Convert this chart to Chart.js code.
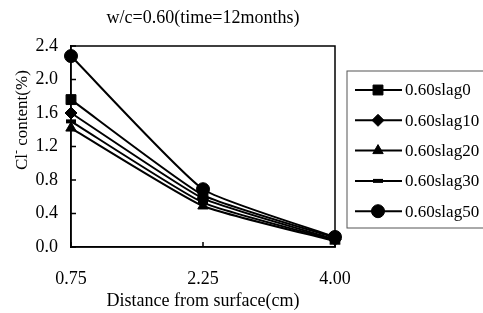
<!DOCTYPE html>
<html>
<head>
<meta charset="utf-8">
<script src="https://cdn.jsdelivr.net/npm/chart.js@4/dist/chart.umd.min.js"></script>
<style>
  body { margin: 0; background: #fff; }
  #wrap { width: 483px; height: 313px; }
</style>
</head>
<body>
<div id="wrap"><canvas id="myChart" width="483" height="313"></canvas></div>
<script>
  // data
  const distances = ['0.75', '2.25', '4.00'];
  const seriesNames = ['0.60slag0', '0.60slag10', '0.60slag20', '0.60slag30', '0.60slag50'];
  const slag0 = [1.76, 0.62, 0.11];
  const slag10 = [1.60, 0.58, 0.09];
  const slag20 = [1.42, 0.49, 0.07];
  const slag30 = [1.50, 0.53, 0.08];
  const slag50 = [2.28, 0.69, 0.12];
  const yTicks = [0, 0.4, 0.8, 1.2, 1.6, 2.0, 2.4];

  const chartTitle = 'w/c=0.60(time=12months)';
  const xTitle = 'Distance from surface(cm)';

  const serif = '"Liberation Serif", "Times New Roman", serif';
  const styles = ['rect', 'rectRot', 'triangle', 'line', 'circle'];
  const radii = [7, 6, 6, 5, 6.5];
  const values = [slag0, slag10, slag20, slag30, slag50];

  const datasets = seriesNames.map(function (name, i) {
      return {
          label: name,
          data: values[i],
          borderColor: '#000',
          backgroundColor: '#000',
          borderWidth: 2,
          pointStyle: styles[i],
          pointRadius: radii[i],
          pointBorderWidth: styles[i] === 'line' ? 4 : 1,
          pointBackgroundColor: '#000',
          pointBorderColor: '#000',
          tension: 0.15
      };
  });

  // frame, inward ticks, title, y title and boxed legend
  const extras = {
      id: 'extras',
      afterDraw: function (chart) {
          const ctx = chart.ctx;
          const a = chart.chartArea;
          const ys = chart.scales.y;
          const xs = chart.scales.x;
          ctx.save();
          ctx.strokeStyle = '#000';
          ctx.lineWidth = 1.5;
          ctx.strokeRect(a.left, a.top, a.right - a.left, a.bottom - a.top);

          ctx.beginPath();
          yTicks.forEach(function (v) {
              const y = ys.getPixelForValue(v);
              ctx.moveTo(a.left, y);
              ctx.lineTo(a.left + 5, y);
          });
          distances.forEach(function (d, i) {
              const x = xs.getPixelForValue(i);
              ctx.moveTo(x, a.bottom);
              ctx.lineTo(x, a.bottom - 5);
          });
          ctx.stroke();

          ctx.fillStyle = '#000';
          ctx.font = '18px ' + serif;
          ctx.textAlign = 'center';
          ctx.textBaseline = 'middle';
          ctx.fillText(chartTitle, (a.left + a.right) / 2, 18);

          // y title with superscript minus
          ctx.save();
          ctx.translate(23, 170);
          ctx.rotate(-Math.PI / 2);
          ctx.textAlign = 'left';
          ctx.font = '17px ' + serif;
          ctx.fillText('Cl', 0, 0);
          let w = ctx.measureText('Cl').width;
          ctx.font = '12px ' + serif;
          ctx.fillText('-', w, -6);
          w += ctx.measureText('-').width;
          ctx.font = '17px ' + serif;
          ctx.fillText(' content(%)', w, 0);
          ctx.restore();

          // legend
          const lx = 347, ly = 71;
          ctx.lineWidth = 1;
          ctx.strokeStyle = '#555';
          ctx.strokeRect(lx, ly, 150, 157);
          ctx.textAlign = 'left';
          ctx.font = '17px ' + serif;
          chart.data.datasets.forEach(function (ds, i) {
              const y = 90 + i * 30.3;
              ctx.strokeStyle = '#000';
              ctx.lineWidth = 2;
              ctx.beginPath();
              ctx.moveTo(355, y);
              ctx.lineTo(402, y);
              ctx.stroke();
              ctx.lineWidth = ds.pointBorderWidth;
              Chart.helpers.drawPoint(ctx, {
                  pointStyle: ds.pointStyle,
                  radius: ds.pointRadius,
                  rotation: 0,
                  borderWidth: ds.pointBorderWidth
              }, 378, y);
              ctx.fillStyle = '#000';
              ctx.fillText(ds.label, 405, y + 1);
          });
          ctx.restore();
      }
  };

  new Chart('myChart', {
      type: 'line',
      data: {
          labels: distances,
          datasets: datasets
      },
      options: {
          responsive: false,
          animation: false,
          layout: {
              padding: { top: 46, right: 148, left: 0, bottom: 0 }
          },
          plugins: {
              legend: { display: false },
              tooltip: { enabled: false }
          },
          scales: {
              y: {
                  min: 0,
                  max: 2.4,
                  afterBuildTicks: function (s) {
                      s.ticks = yTicks.map(function (v) { return { value: v }; });
                  },
                  afterFit: function (s) { s.width = 71; },
                  ticks: {
                      color: '#000',
                      padding: 13,
                      font: { family: serif, size: 18 },
                      callback: function (v) { return Number(v).toFixed(1); }
                  },
                  grid: { drawOnChartArea: false, drawTicks: false },
                  border: { color: '#000', width: 1.5 }
              },
              x: {
                  afterFit: function (s) { s.height = 66; },
                  ticks: {
                      color: '#000',
                      padding: 21,
                      font: { family: serif, size: 18 }
                  },
                  grid: { drawOnChartArea: false, drawTicks: false },
                  border: { color: '#000', width: 1.5 },
                  title: {
                      display: true,
                      text: xTitle,
                      color: '#000',
                      padding: { top: 0, bottom: 1 },
                      font: { family: serif, size: 18 }
                  }
              }
          }
      },
      plugins: [extras]
  });
</script>
</body>
</html>
